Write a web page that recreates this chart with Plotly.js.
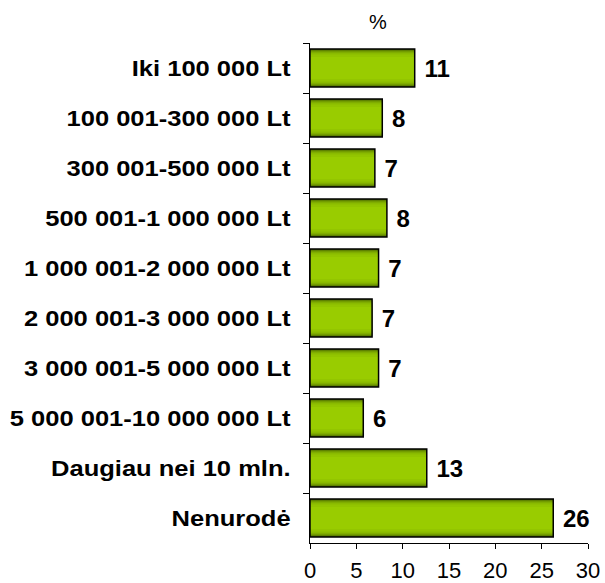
<!DOCTYPE html>
<html><head><meta charset="utf-8">
<script src="https://cdn.plot.ly/plotly-3.0.1.min.js"></script>
<style>body{margin:0;background:#fff}</style>
</head><body><div id="chart" style="width:605px;height:583px"></div>
<script>
const categories = ["Iki 100 000 Lt","100 001-300 000 Lt","300 001-500 000 Lt","500 001-1 000 000 Lt","1 000 001-2 000 000 Lt","2 000 001-3 000 000 Lt","3 000 001-5 000 000 Lt","5 000 001-10 000 000 Lt","Daugiau nei 10 mln.","Nenurodė"];
const values = [11.3, 7.8, 7.0, 8.3, 7.4, 6.7, 7.4, 5.75, 12.6, 26.25];
const valueLabels = ["11","8","7","8","7","7","7","6","13","26"];
const axisTitle = "%";

// gradient simulation layers: outer dark -> inner bright
const layers = [
  {w:0.76, c:"#3f5a00"},
  {w:0.73, c:"#557500"},
  {w:0.70, c:"#6a9000"},
  {w:0.66, c:"#7ca800"},
  {w:0.61, c:"#8aba00"},
  {w:0.54, c:"#93c500"},
  {w:0.44, c:"#99cc00"}
];
const FONT = "Liberation Sans, Arial, sans-serif";
const traces = layers.map((L,i)=>({
  type:"bar", orientation:"h", y:categories, x:values, width:L.w,
  marker:{color:L.c, line:{color:L.c, width:0}},
  hoverinfo:"skip", showlegend:false
}));
traces.push({type:"bar", orientation:"h", y:categories, x:values, width:0.76,
  marker:{color:"rgba(0,0,0,0)", line:{color:"#000", width:1.5}},
  text: valueLabels.map(t=>" "+t), textposition:"outside", constraintext:"none",
  textfont:{family:FONT, size:24, color:"#000", weight:"bold"},
  cliponaxis:false, hoverinfo:"skip", showlegend:false});

const layout = {
  width:605, height:583, barmode:"overlay",
  margin:{l:310, r:17, t:43, b:40},
  paper_bgcolor:"#fff", plot_bgcolor:"#fff",
  font:{family:FONT, color:"#000"},
  xaxis:{range:[0,30], dtick:5, showgrid:false, zeroline:false, showline:true, linecolor:"#000", linewidth:1,
    ticks:"outside", ticklen:5, tickcolor:"#000", tickfont:{size:22}, ticklabelstandoff:3},
  yaxis:{autorange:"reversed", showgrid:false, showline:true, linecolor:"#000", linewidth:1,
    ticks:"outside", ticklen:6, tickcolor:"#000", tickson:"boundaries", ticklabelstandoff:14,
    tickfont:{size:22, weight:"bold"}},
  annotations:[{text:axisTitle, xref:"paper", yref:"paper", x:0.205, y:1, yshift:21, showarrow:false,
    font:{size:20}, yanchor:"middle"}]
};
Plotly.newPlot("chart", traces, layout, {displayModeBar:false, staticPlot:true}).then(()=>{
  // the reference's category labels are drawn horizontally widened
  document.querySelectorAll("#chart .ytick text").forEach(t=>{
    const ax = parseFloat(t.getAttribute("x")) || 0;
    const tr = t.getAttribute("transform") || "";
    t.setAttribute("transform", tr + " translate(" + ax + ",0) scale(1.16,1) translate(" + (-ax) + ",0)");
  });
});
</script></body></html>
